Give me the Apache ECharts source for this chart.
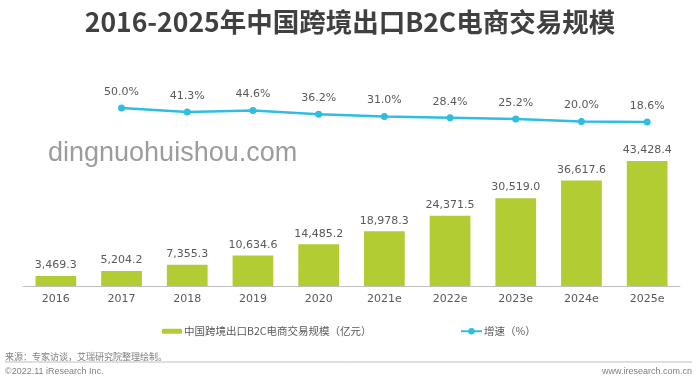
<!DOCTYPE html>
<html>
<head>
<meta charset="utf-8">
<script src="https://cdn.jsdelivr.net/npm/echarts@6/dist/echarts.min.js"></script>
<style>html,body{margin:0;padding:0;background:#fff}#c{width:700px;height:385px}</style>
</head>
<body>
<div id="c"></div>
<script>
var categories = ['2016','2017','2018','2019','2020','2021e','2022e','2023e','2024e','2025e'];
var scaleValues = [3469.3, 5204.2, 7355.3, 10634.6, 14485.2, 18978.3, 24371.5, 30519.0, 36617.6, 43428.4];
var growthValues = ['-', 50.0, 41.3, 44.6, 36.2, 31.0, 28.4, 25.2, 20.0, 18.6];
var barName = '中国跨境出口B2C电商交易规模（亿元）';
var lineName = '增速（%）';
var titleText = '2016-2025年中国跨境出口B2C电商交易规模';
var sourceText = '来源：专家访谈，艾瑞研究院整理绘制。';
var copyText = '©2022.11 iResearch Inc.';
var siteText = 'www.iresearch.com.cn';
var watermark = 'dingnuohuishou.com';

var chart = echarts.init(document.getElementById('c'), null, {renderer: 'canvas'});
var labelFont = 'DejaVu Sans';
chart.setOption({
  animation: false,
  backgroundColor: '#ffffff',
  title: {
    text: titleText, left: 'center', top: 4,
    textStyle: {fontSize: 26.5, fontWeight: 'bold', color: '#404040', fontFamily: 'Noto Sans CJK SC'}
  },
  legend: [
    {data: [barName], left: 157, top: 321, itemWidth: 20, itemHeight: 5, itemGap: 4,
     textStyle: {fontSize: 10.5, color: '#595959', fontFamily: 'Noto Sans CJK SC', padding: [0,0,0,-3]}},
    {data: [lineName], left: 455, top: 321, itemWidth: 21, itemHeight: 8,
     textStyle: {fontSize: 10.5, color: '#595959', fontFamily: 'Noto Sans CJK SC', padding: [0,0,0,-3]}}
  ],
  grid: {left: 23, right: 20, top: 100, bottom: 99},
  xAxis: {
    type: 'category', data: categories,
    axisLine: {lineStyle: {color: '#bfbfbf', width: 1}},
    axisTick: {show: false},
    axisLabel: {color: '#595959', fontSize: 11, fontFamily: labelFont, margin: 8}
  },
  yAxis: [
    {type: 'value', min: 0, max: 64600, show: false, splitLine: {show: false}},
    {type: 'value', min: -349, max: 68, show: false, splitLine: {show: false}}
  ],
  series: [
    {
      name: barName, type: 'bar', data: scaleValues, barWidth: '62%',
      itemStyle: {color: '#b2cd33'},
      label: {show: true, position: 'top', distance: 5, color: '#595959', fontSize: 11, fontFamily: labelFont,
        formatter: function (p) { return p.value.toLocaleString('en-US', {minimumFractionDigits: 1, maximumFractionDigits: 1}); }}
    },
    {
      name: lineName, type: 'line', yAxisIndex: 1, data: growthValues,
      symbol: 'circle', symbolSize: 7,
      lineStyle: {color: '#2fbde2', width: 2.5},
      itemStyle: {color: '#2fbde2'},
      label: {show: true, position: 'top', distance: 7, color: '#595959', fontSize: 11, fontFamily: labelFont,
        formatter: function (p) { return p.value.toFixed(1) + '%'; }}
    }
  ],
  graphic: [
    {type: 'text', left: 48, top: 140, silent: true,
     style: {text: watermark, font: '27px "Liberation Sans"', fill: '#9c9c9c'}},
    {type: 'text', left: 5, top: 352,
     style: {text: sourceText, font: '9px "Noto Sans CJK SC"', fill: '#7f7f7f'}},
    {type: 'line', shape: {x1: 5, y1: 362, x2: 692, y2: 362}, style: {stroke: '#bfbfbf', lineWidth: 1}},
    {type: 'text', left: 5, top: 367,
     style: {text: copyText, font: '9px "Liberation Sans"', fill: '#7f7f7f'}},
    {type: 'text', right: 8, top: 367,
     style: {text: siteText, font: '9px "Liberation Sans"', fill: '#7f7f7f'}}
  ]
});
</script>
</body>
</html>
